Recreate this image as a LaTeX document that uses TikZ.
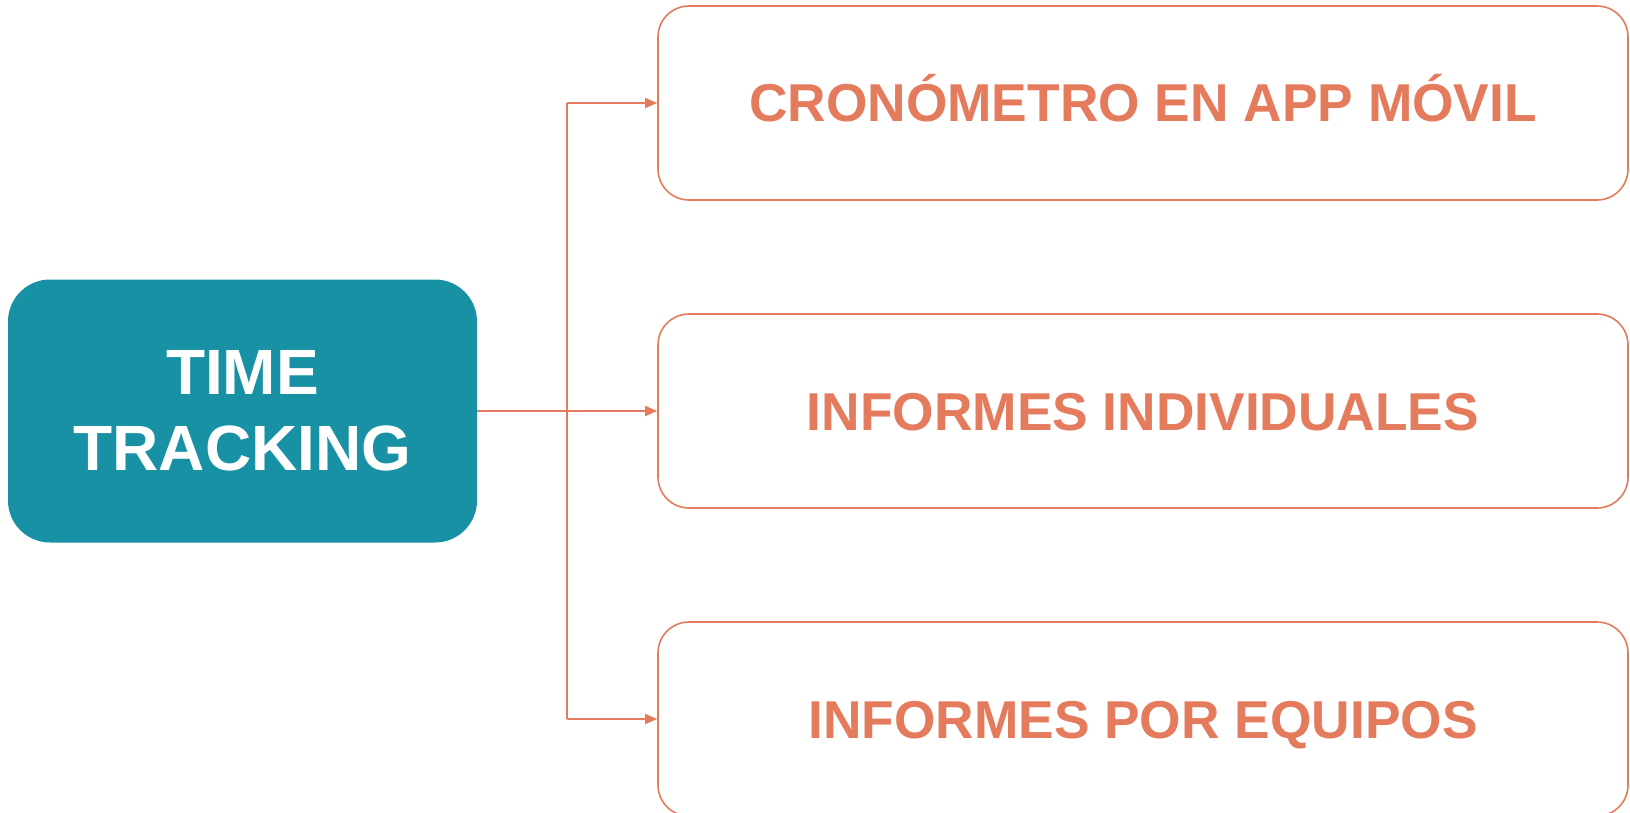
\documentclass[tikz,border=0pt]{standalone}
\usepackage{fontspec}
\setmainfont{Liberation Sans}
\usepackage{tikz}
\usetikzlibrary{calc,shapes,arrows.meta}

\definecolor{tealbox}{HTML}{1891A5}
\definecolor{salmon}{HTML}{E57B5D}

\tikzset{
    mainbox/.style={fill=tealbox, draw=none, rounded corners=42pt,
        minimum width=469pt, minimum height=263pt, text=white,
        align=center, font=\fontsize{64}{76}\selectfont\bfseries},
    itembox/.style={draw=salmon, line width=1.6pt, fill=white, rounded corners=31pt,
        minimum width=970pt, minimum height=194pt, text=salmon,
        text height=38pt, text depth=0pt,
        font=\fontsize{53.3}{60}\selectfont\bfseries},
    link/.style={draw=salmon, line width=1.8pt},
}

\begin{document}
\begin{tikzpicture}[x=1pt,y=-1pt]
        \useasboundingbox (0,0) rectangle (1630,813);
        \node[mainbox] (track) at (242.5,411) {TIME\\TRACKING};
        \node[itembox] (crono) at (1143,103) {CRONÓMETRO EN APP MÓVIL};
        \node[itembox] (indiv) at (1143,411) {INFORMES INDIVIDUALES};
        \node[itembox] (equipos) at (1143,719) {INFORMES POR EQUIPOS};
        \coordinate (split) at (566.7,411);
        % connectors
        \draw[link] (split |- crono.west) -- (split |- equipos.west);
        \draw[link] (track.east) -- (split);
        \foreach \n in {crono, indiv, equipos}
        \draw[link, -{Triangle[length=12pt,width=10pt]}] (split |- \n.west) -- (\n.west);
    \end{tikzpicture}
\end{document}
